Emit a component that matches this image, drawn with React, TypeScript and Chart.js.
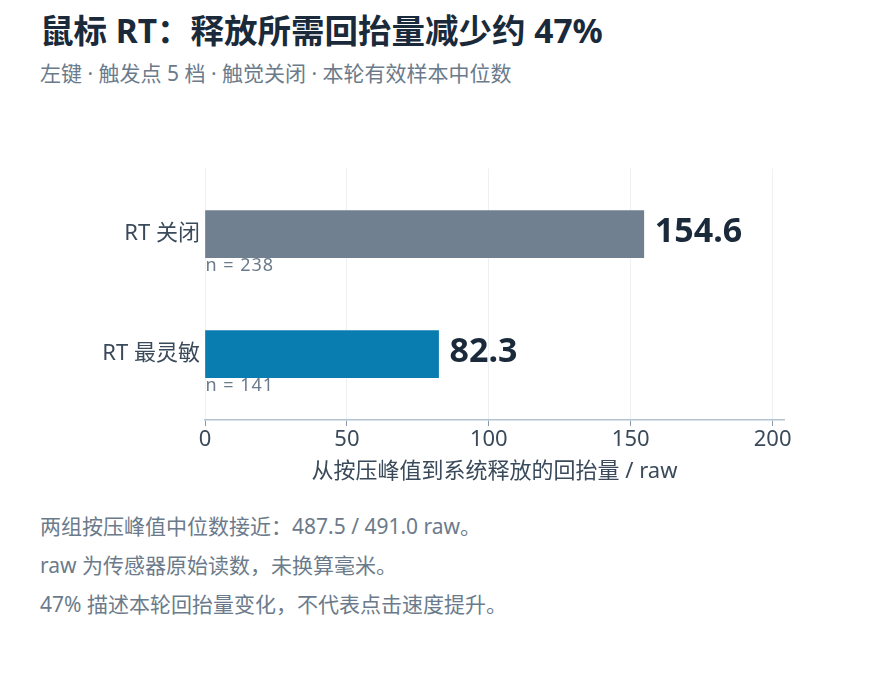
// @ts-nocheck
import { useEffect, useRef } from "react";
import { Chart, registerables } from "chart.js";

Chart.register(...registerables);

const categories = ["RT 关闭", "RT 最灵敏"];
const medians = [154.6, 82.3];
const sampleCounts = [238, 141];
const barColors = ["#708090", "#0a7db0"];
const xTicks = [0, 50, 100, 150, 200];

const notes = [
  "两组按压峰值中位数接近：487.5 / 491.0 raw。",
  "raw 为传感器原始读数，未换算毫米。",
  "47% 描述本轮回抬量变化，不代表点击速度提升。",
];

const FONT = '"Noto Sans", "Noto Sans CJK SC", sans-serif';

// value and sample-size labels next to each bar
const barLabels = {
  id: "barLabels",
  afterDatasetsDraw(chart) {
    const { ctx } = chart;
    const meta = chart.getDatasetMeta(0);
    ctx.save();
    meta.data.forEach((bar, i) => {
      const half = bar.height / 2;
      ctx.fillStyle = "#1b2a3a";
      ctx.font = `bold 34px ${FONT}`;
      ctx.textAlign = "left";
      ctx.textBaseline = "middle";
      ctx.fillText(medians[i].toFixed(1), bar.x + 11, bar.y - 2);

      ctx.fillStyle = "#6b7b8b";
      ctx.font = `18px ${FONT}`;
      ctx.letterSpacing = "1px";
      ctx.textBaseline = "top";
      ctx.fillText(`n = ${sampleCounts[i]}`, bar.base, bar.y + half - 1);
      ctx.letterSpacing = "0px";
    });
    ctx.restore();
  },
};

function RecoilChart() {
  const canvasRef = useRef(null);
  const chartRef = useRef(null);

  useEffect(() => {
    if (!canvasRef.current) return;
    if (chartRef.current) chartRef.current.destroy();

    chartRef.current = new Chart(canvasRef.current, {
      type: "bar",
      data: {
        datasets: [
          {
            data: medians.map((v, i) => ({ x: v, y: i })),
            backgroundColor: barColors,
            borderWidth: 0,
            barThickness: 47,
          },
        ],
      },
      options: {
        indexAxis: "y",
        responsive: false,
        animation: false,
        layout: { padding: { top: 18, right: 106, left: 0, bottom: 0 } },
        plugins: {
          legend: { display: false },
          tooltip: { enabled: false },
        },
        scales: {
          x: {
            type: "linear",
            min: 0,
            max: 204,
            afterBuildTicks: (s) => {
              s.ticks = xTicks.map((v) => ({ value: v }));
            },
            afterFit: (s) => {
              s.height = 70;
            },
            grid: {
              color: "#eef1f4",
              tickColor: "#8a9aaa",
              tickLength: 6,
            },
            border: { color: "#b4c3d1", width: 1.5 },
            ticks: {
              color: "#3a4a5a",
              font: { family: FONT, size: 22 },
              padding: 1,
              maxRotation: 0,
            },
            title: {
              display: true,
              text: "从按压峰值到系统释放的回抬量 / raw",
              color: "#3a4a5a",
              font: { family: FONT, size: 22 },
              padding: { top: 0, bottom: 5 },
            },
          },
          y: {
            type: "linear",
            reverse: true,
            offset: false,
            min: -0.55,
            max: 1.55,
            afterBuildTicks: (s) => {
              s.ticks = categories.map((_, i) => ({ value: i }));
            },
            afterFit: (s) => {
              s.width = 205;
            },
            grid: { display: false, drawTicks: false, offset: false },
            border: { display: false },
            ticks: {
              color: "#3a4a5a",
              font: { family: FONT, size: 22 },
              padding: 5,
              callback: (v) => categories[v],
            },
          },
        },
      },
      plugins: [barLabels],
    });

    return () => chartRef.current?.destroy();
  }, []);

  return (
    <canvas
      ref={canvasRef}
      width={890}
      height={340}
      style={{ position: "absolute", left: 0, top: 150, width: 890, height: 340 }}
    />
  );
}

export default function App() {
  return (
    <div
      style={{
        position: "fixed",
        left: 0,
        top: 0,
        width: 890,
        height: 700,
        background: "#ffffff",
        fontFamily: FONT,
      }}
    >
      <div
        style={{
          position: "absolute",
          left: 40,
          top: 8,
          fontSize: 33.5,
          fontWeight: 700,
          color: "#1b2a3a",
          lineHeight: "44px",
          whiteSpace: "nowrap",
        }}
      >
        鼠标 RT：释放所需回抬量减少约 47%
      </div>
      <div
        style={{
          position: "absolute",
          left: 40,
          top: 59,
          fontSize: 21,
          color: "#6b7b8b",
          lineHeight: "28px",
          whiteSpace: "nowrap",
        }}
      >
        左键 · 触发点 5 档 · 触觉关闭 · 本轮有效样本中位数
      </div>
      <RecoilChart />
      <div style={{ position: "absolute", left: 40, top: 507 }}>
        {notes.map((t) => (
          <div
            key={t}
            style={{
              fontSize: 21,
              color: "#6b7b8b",
              lineHeight: "39px",
              whiteSpace: "nowrap",
            }}
          >
            {t}
          </div>
        ))}
      </div>
    </div>
  );
}
